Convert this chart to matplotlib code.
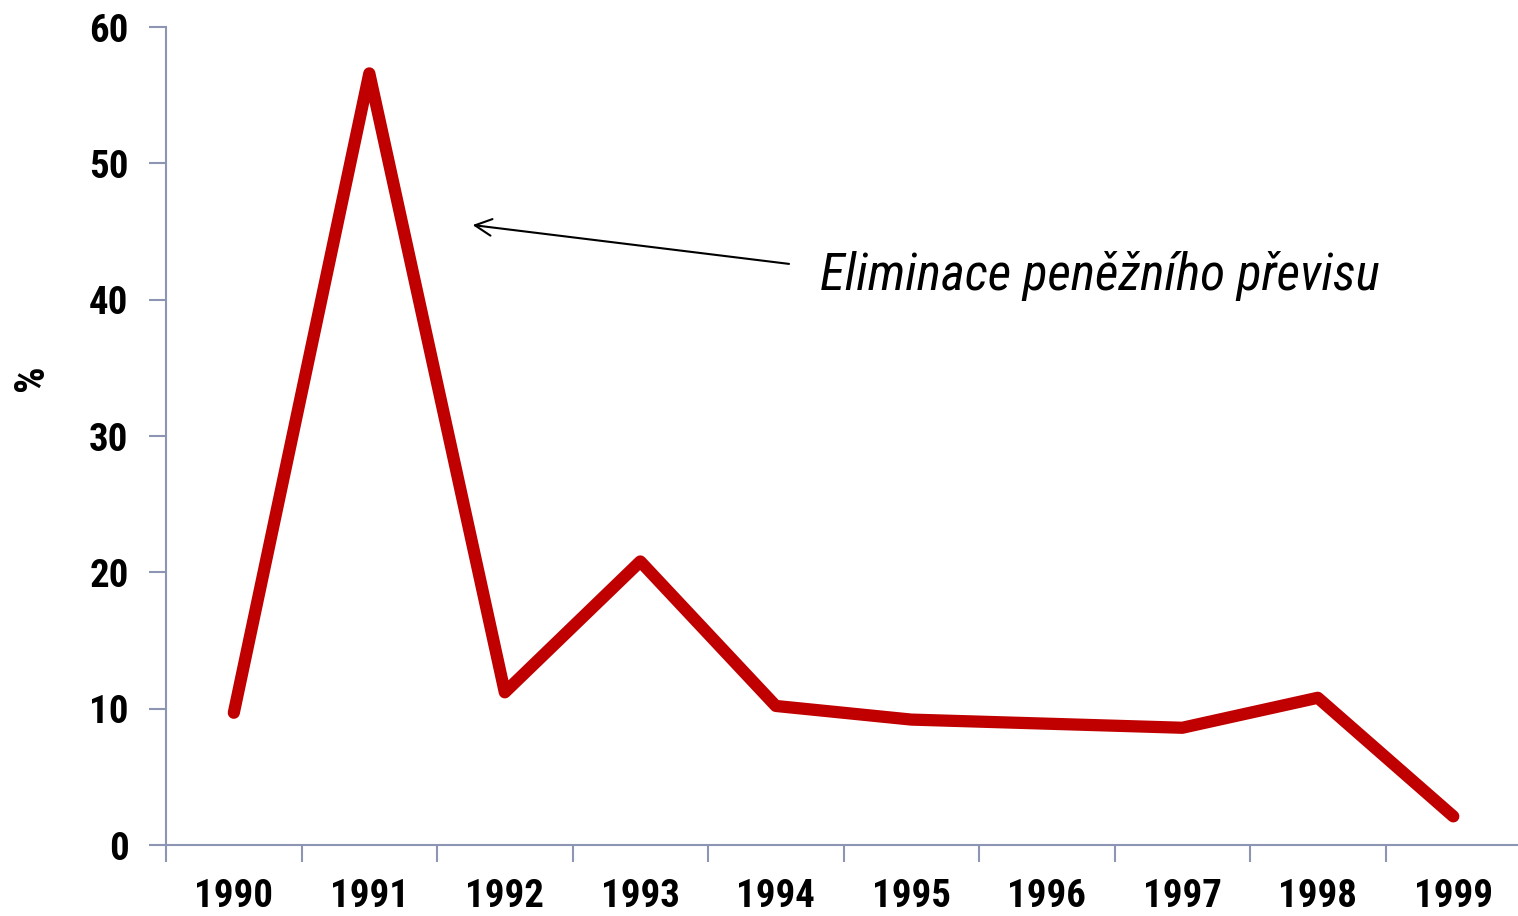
from matplotlib import pyplot as plt
from matplotlib import font_manager
import numpy as np

# Data
years = ['1990', '1991', '1992', '1993', '1994', '1995', '1996', '1997', '1998', '1999']
values = [9.7, 56.6, 11.2, 20.8, 10.2, 9.2, 8.9, 8.6, 10.8, 2.1]
y_ticks = [0, 10, 20, 30, 40, 50, 60]
note = 'Eliminace peněžního převisu'

# A narrow sans looks closest to the original
names = {f.name for f in font_manager.fontManager.ttflist}
family = 'Liberation Sans'
for cand in ['Liberation Sans Narrow', 'Roboto Condensed', 'Archivo Narrow']:
    if cand in names:
        family = cand
        break
plt.rcParams['font.family'] = [family, 'DejaVu Sans']

axis_color = '#8c96b4'

fig = plt.figure(figsize=(15.18, 9.16), dpi=100)
ax = fig.add_axes([0.1094, 0.0775, 0.8926, 0.893])

x = np.arange(len(years))
ax.plot(x, values, color='#c00000', linewidth=8.8, solid_capstyle='round', solid_joinstyle='round')

ax.set_xlim(-0.5, len(years) - 0.5)
ax.set_ylim(0, 60)

# Category axis: labels at centres, tick marks between categories
ax.set_xticks(x)
ax.set_xticklabels(years, fontsize=28, fontweight='bold')
ax.set_xticks(np.arange(-0.5, len(years)), minor=True)
ax.tick_params(axis='x', which='major', length=0, pad=24)
ax.tick_params(axis='x', which='minor', length=12, width=1.5, color=axis_color, direction='out')

ax.set_yticks(y_ticks)
ax.set_yticklabels([str(v) for v in y_ticks], fontsize=28, fontweight='bold')
ax.tick_params(axis='y', length=12, width=1.5, color=axis_color, direction='out', pad=15)

for side in ['top', 'right']:
    ax.spines[side].set_visible(False)
for side in ['left', 'bottom']:
    ax.spines[side].set_color(axis_color)
    ax.spines[side].set_linewidth(1.5)

ax.set_ylabel('%', fontsize=30, fontweight='bold')
ax.yaxis.set_label_coords(-0.084, 0.571)

# Annotation arrow and text
ax.annotate('', xy=(1.742, 45.5), xytext=(4.118, 42.6),
            arrowprops=dict(arrowstyle='->', color='black', lw=1.5, mutation_scale=30))
ax.text(4.325, 40.7, note, fontsize=37, fontstyle='italic', ha='left', va='baseline')

plt.savefig('out.png', dpi=100)
